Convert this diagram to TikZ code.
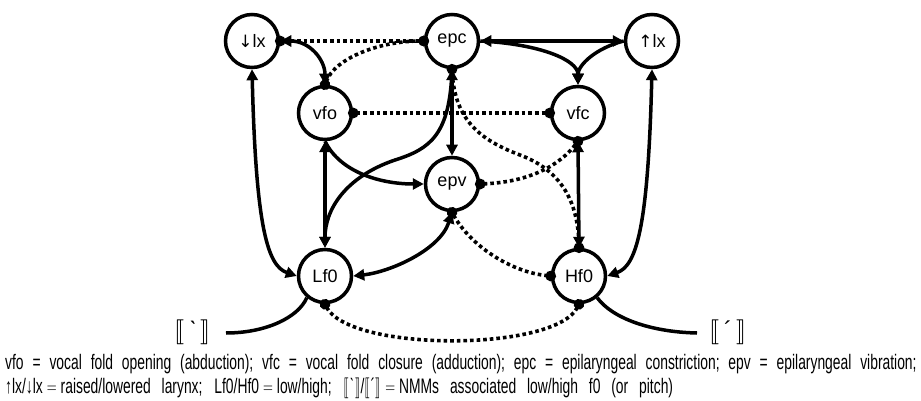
\documentclass[tikz,border=0pt]{standalone}
\usepackage{fontspec}
\usepackage{stmaryrd}
\setmainfont{Liberation Sans}
\newfontfamily\capfont[WordSpace=2.3]{Liberation Sans}
\newfontfamily\arrfont{DejaVu Sans}
\newcommand\eqsym{\hspace{6pt}$=$\hspace{6pt}}
\newcommand\lbrk{$\llbracket$}
\newcommand\rbrk{$\rrbracket$}
\usetikzlibrary{arrows.meta}

\begin{document}
\begin{tikzpicture}[x=1pt, y=-1pt,
  >={Triangle[length=11pt,width=11pt]},
  state/.style={circle, draw, line width=3.5pt, minimum size=53pt, inner sep=0pt,
                fill=white, font=\fontsize{18}{18}\selectfont},
  sol/.style={line width=3.5pt},
  dots/.style={line width=3.6pt, dash pattern=on 3.6pt off 3pt,
               {Circle[length=10.5pt]}-{Circle[length=10.5pt]},
               shorten >=-5.25pt, shorten <=-5.25pt},
  brk/.style={font=\fontsize{24}{24}\selectfont, inner sep=0pt},
  captxt/.style={anchor=base west, inner sep=0pt, font=\capfont\fontsize{21}{24}\selectfont}]
\useasboundingbox (0,0) rectangle (921,401);

% states
\node[state] (dlx) at (252,41) {{\arrfont\fontsize{17}{17}\selectfont ↓}lx};
\node[state] (epc) at (452,41) {epc};
\node[state] (ulx) at (652,41) {{\arrfont\fontsize{17}{17}\selectfont ↑}lx};
\node[state] (vfo) at (325,113) {vfo};
\node[state] (vfc) at (578,113) {vfc};
\node[state] (epv) at (452,184) {epv};
\node[state] (lf)  at (325,276) {Lf0};
\node[state] (hf)  at (579,276) {Hf0};

% tone marks
\node[brk] (lo) at (193,332) {$\llbracket$\,\char"02CB\,$\rrbracket$};
\node[brk] (hi) at (728,332) {$\llbracket$\,\char"B4\,$\rrbracket$};
\coordinate (lend) at (226,333);
\coordinate (rend) at (697,333);

% dotted links
\draw[dots] (dlx.east) -- (epc.west);
\draw[dots] (vfo.north) .. controls (335,58) and (380,41) .. (epc.west);
\draw[dots] (vfo.east) -- (vfc.west);
\draw[dots] (epc.south) .. controls (455,120) and (480,140) .. (520,155)
                        .. controls (560,170) and (578,200) .. (hf.north);
\draw[dots] (epv.east) .. controls (530,182) and (560,165) .. (vfc.south);
\draw[dots] (epv.south) .. controls (470,245) and (510,272) .. (hf.west);
\draw[dots] (lf.south) .. controls (350,352) and (555,352) .. (hf.south);

% solid links
\draw[sol,<->] (dlx.east) .. controls (310,41) and (325,60) .. (vfo.north);
\draw[sol,<->] (epc.east) -- (ulx.west);
\draw[sol,->] (epc.east) .. controls (540,44) and (578,60) .. (vfc.north);
\draw[sol,->] (ulx.west) .. controls (596,48) and (578,65) .. (vfc.north);
\draw[sol,<->] (dlx.south) .. controls (256,230) and (268,266) .. (lf.west);
\draw[sol,<->] (ulx.south) .. controls (648,230) and (636,266) .. (hf.east);
\draw[sol,<->] (vfo.south) -- (lf.north);
\draw[sol,->] (vfo.south) .. controls (340,172) and (380,184) .. (epv.west);
\draw[sol,<->] (epc.south) -- (epv.north);
\draw[sol,->] (epc.south) .. controls (450,135) and (430,149) .. (395,160)
                          .. controls (345,177) and (325,210) .. (lf.north);
\draw[sol,<->] (vfc.south) -- (hf.north);
\draw[sol,<->] (epv.south) .. controls (440,250) and (390,272) .. (lf.east);
\draw[sol] (lf.230) .. controls (298,318) and (265,333) .. (lend);
\draw[sol] (hf.310) .. controls (612,318) and (650,332) .. (rend);

% legend, set in a horizontally condensed face
\node[captxt] (cap1) at (5,369) {\scalebox{0.66}[1]{\makebox[1381pt][s]{vfo = vocal fold opening (abduction); vfc = vocal fold closure (adduction); epc = epilaryngeal constriction; epv = epilaryngeal vibration;}}};
\node[captxt] (cap2) at (5,393) {\scalebox{0.66}[1]{\makebox[1012pt][s]{↑lx/↓lx\eqsym raised/lowered larynx; Lf0/Hf0\eqsym low/high; \lbrk\kern1pt\char"02CB\kern1pt\rbrk/\lbrk\kern1pt\char"B4\kern1pt\rbrk\eqsym NMMs associated low/high f0 (or pitch)}}};
\end{tikzpicture}
\end{document}
